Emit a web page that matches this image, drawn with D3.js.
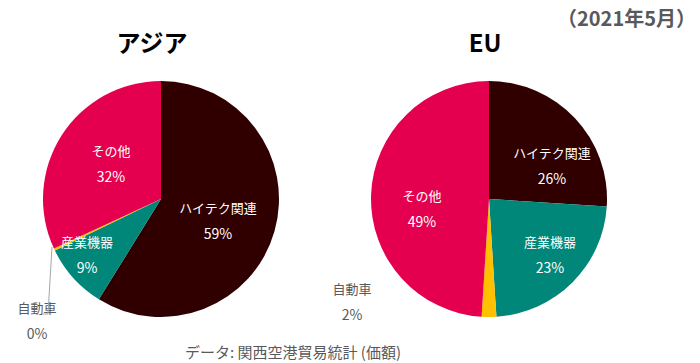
<!DOCTYPE html>
<html><head><meta charset="utf-8">
<script src="https://cdn.jsdelivr.net/npm/d3@7"></script>
<style>
body{margin:0;background:#fff;}
text{font-family:"Noto Sans CJK JP","Noto Sans",sans-serif;}
</style></head>
<body><svg id="c" width="700" height="363"></svg>
<script>
const categories = ["ハイテク関連","産業機器","自動車","その他"];
const asiaValues = [59, 9, 0.3, 32];
const asiaLabels = ["59%","9%","0%","32%"];
const euValues = [26, 23, 2, 49];
const euLabels = ["26%","23%","2%","49%"];
const chartTitles = ["アジア","EU"];
const periodLabel = "（2021年5月）";
const sourceLabel = "データ: 関西空港貿易統計 (価額)";

const colors = d3.scaleOrdinal().domain(categories).range(["#300000","#00877A","#FFC000","#E5004F"]);
const svg = d3.select("#c");
const R = 118;
const pie = d3.pie().sort(null).value(d => d.v);
const arc = d3.arc().innerRadius(0).outerRadius(R);

function drawPie(cx, cy, values, labels, title, titleX, labelPos, autoPos, leader){
  const g = svg.append("g").attr("transform", `translate(${cx},${cy})`);
  const data = categories.map((c,i)=>({c, v: values[i], l: labels[i]}));
  g.selectAll("path").data(pie(data)).join("path")
    .attr("d", arc).attr("fill", d => colors(d.data.c));
  svg.append("text").attr("x", titleX).attr("y", 52).attr("text-anchor","middle")
    .attr("font-size", 24).attr("font-weight", "bold").attr("fill","#000").text(title);
  data.forEach((d,i)=>{
    const p = (i===2) ? autoPos : labelPos[i];
    const fill = (i===2) ? "#595959" : "#fff";
    const t = svg.append("text").attr("text-anchor","middle").attr("font-size",13).attr("fill",fill);
    t.append("tspan").attr("x", p[0]).attr("y", p[1]+5).text(d.c);
    t.append("tspan").attr("x", p[0]).attr("y", p[1]+31).attr("font-size",14).text(d.l);
  });
  if (leader) {
    svg.append("path").attr("d", d3.line()(leader)).attr("fill","none")
      .attr("stroke","#A6A6A6").attr("stroke-width",1);
  }
}

drawPie(161, 199, asiaValues, asiaLabels, chartTitles[0], 152,
  [[218,208],[87,242],null,[111,151]], [37,308], [[52,247],[48,314],[42,314]]);
drawPie(489, 199, euValues, euLabels, chartTitles[1], 485,
  [[552,153],[550,242],null,[422,196]], [352,289], null);

svg.append("text").attr("x", 696).attr("y", 26).attr("text-anchor","end")
  .attr("font-size", 20).attr("font-weight","bold").attr("fill","#595959").text(periodLabel);
svg.append("text").attr("x", 293).attr("y", 358).attr("text-anchor","middle")
  .attr("font-size", 15).attr("fill","#595959").text(sourceLabel);
</script></body></html>
